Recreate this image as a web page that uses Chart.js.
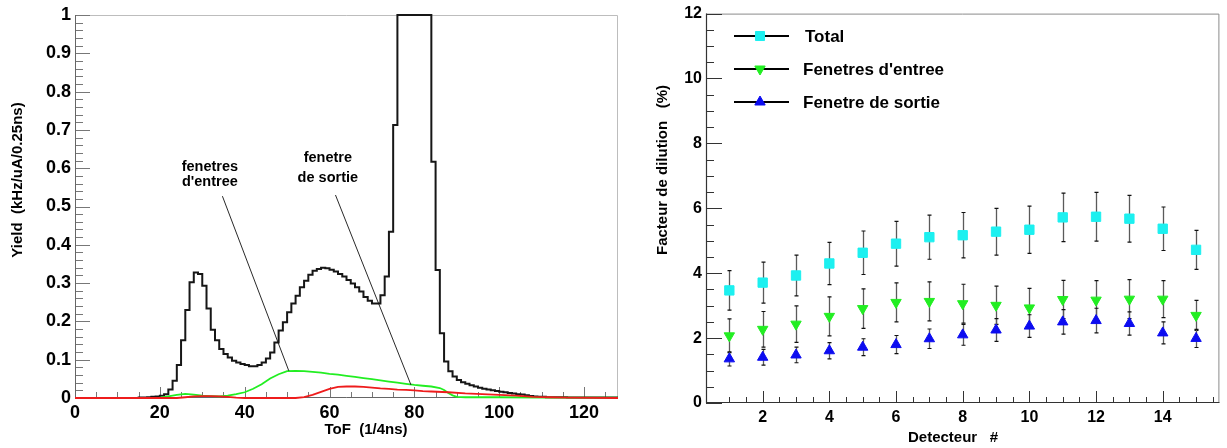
<!DOCTYPE html>
<html><head><meta charset="utf-8">
<script src="https://cdn.jsdelivr.net/npm/chart.js@4.4.1/dist/chart.umd.min.js"></script>
<style>
html,body{margin:0;padding:0;background:#fff;overflow:hidden}
#wrap{position:relative;width:1227px;height:448px;background:#fff}
canvas{position:absolute;top:0}
#c1{left:0}
#c2{left:640px}
</style></head><body>
<div id="wrap"><canvas id="c1" width="640" height="448"></canvas><canvas id="c2" width="587" height="448"></canvas></div>
<script>
// ================= LEFT PANEL DATA =================
const tofTicks = [0, 20, 40, 60, 80, 100, 120];
const tofTickLabels = ['0', '20', '40', '60', '80', '100', '120'];
const yieldTicks = [0, 0.1, 0.2, 0.3, 0.4, 0.5, 0.6, 0.7, 0.8, 0.9, 1];
const yieldTickLabels = ['0', '0.1', '0.2', '0.3', '0.4', '0.5', '0.6', '0.7', '0.8', '0.9', '1'];
const tofBinWidth = 1; // histogram bins [k, k+1)
// total yield per ToF bin (bins 0..127)
const yieldTotal = [
  0, 0, 0, 0, 0, 0, 0, 0, 0, 0,
  0, 0, 0, 0, 0, 0.001, 0.001, 0.002, 0.003, 0.004,
  0.006, 0.010, 0.022, 0.045, 0.086, 0.151, 0.230, 0.302, 0.328, 0.324,
  0.293, 0.234, 0.178, 0.151, 0.128, 0.115, 0.106, 0.097, 0.093, 0.089,
  0.086, 0.083, 0.083, 0.086, 0.093, 0.103, 0.119, 0.145, 0.176, 0.198,
  0.224, 0.247, 0.267, 0.289, 0.306, 0.322, 0.332, 0.337, 0.340, 0.339,
  0.335, 0.330, 0.324, 0.317, 0.308, 0.299, 0.289, 0.278, 0.264, 0.254,
  0.247, 0.247, 0.268, 0.317, 0.434, 0.713, 1, 1, 1, 1,
  1, 1, 1, 1, 0.617, 0.334, 0.169, 0.095, 0.070, 0.056,
  0.047, 0.041, 0.037, 0.033, 0.030, 0.027, 0.024, 0.022, 0.020, 0.018,
  0.016, 0.015, 0.013, 0.012, 0.010, 0.009, 0.007, 0.005, 0.004, 0.003,
  0.003, 0.002, 0.002, 0.002, 0.002, 0.002, 0.001, 0.001, 0.001, 0.001,
  0.001, 0.001, 0.001, 0.001, 0.001, 0.001, 0.001, 0.001
];
// "fenetres d'entree" contribution
const entreeTof = [0, 19, 20, 22, 24, 26, 28, 30, 32, 34, 36, 38, 40, 42, 44, 46, 48, 50, 52, 54, 56, 58, 60, 62, 64, 66, 68, 70, 72, 74, 76, 78, 80, 82, 84, 86, 87, 88, 89, 90, 92, 100, 110, 120, 128];
const entreeYield = [0, 0, 0.001, 0.004, 0.008, 0.011, 0.009, 0.006, 0.005, 0.004, 0.006, 0.010, 0.015, 0.024, 0.036, 0.051, 0.062, 0.070, 0.071, 0.070, 0.068, 0.066, 0.063, 0.061, 0.058, 0.055, 0.052, 0.049, 0.046, 0.043, 0.040, 0.037, 0.034, 0.032, 0.030, 0.026, 0.021, 0.013, 0.007, 0.003, 0.002, 0.002, 0.001, 0.001, 0.001];
// "fenetre de sortie" contribution
const sortieTof = [0, 24, 26, 28, 30, 32, 34, 36, 38, 40, 52, 54, 56, 58, 60, 62, 64, 66, 68, 70, 72, 74, 76, 78, 80, 82, 84, 88, 92, 96, 100, 104, 108, 112, 116, 128];
const sortieYield = [0, 0, 0.002, 0.004, 0.005, 0.005, 0.004, 0.003, 0.001, 0, 0, 0.002, 0.008, 0.016, 0.024, 0.029, 0.030, 0.030, 0.029, 0.027, 0.025, 0.024, 0.022, 0.021, 0.020, 0.018, 0.017, 0.015, 0.012, 0.010, 0.008, 0.006, 0.003, 0.002, 0.001, 0];
// annotations (data coordinates)
const annotLabels = [["fenetres", "d'entree"], ["fenetre", "de sortie"]];
const annotTextAt = [[31.8, 0.607, 0.567], [59.6, 0.629, 0.577]];
const annotLines = [[34.75, 0.527, 50.4, 0.071], [61.4, 0.530, 79.2, 0.034]];

// ================= RIGHT PANEL DATA =================
const detecteurs = [1, 2, 3, 4, 5, 6, 7, 8, 9, 10, 11, 12, 13, 14, 15];
const detTicks = [2, 4, 6, 8, 10, 12, 14];
const detTickLabels = ['2', '4', '6', '8', '10', '12', '14'];
const dilTicks = [0, 2, 4, 6, 8, 10, 12];
const dilTickLabels = ['0', '2', '4', '6', '8', '10', '12'];
const total = [3.47, 3.71, 3.93, 4.30, 4.63, 4.91, 5.11, 5.17, 5.28, 5.34, 5.72, 5.74, 5.68, 5.37, 4.72];
const totalErr = [0.61, 0.63, 0.63, 0.65, 0.67, 0.69, 0.68, 0.70, 0.72, 0.73, 0.75, 0.75, 0.72, 0.67, 0.60];
const entree = [2.07, 2.27, 2.43, 2.67, 2.91, 3.10, 3.13, 3.06, 3.01, 2.93, 3.19, 3.17, 3.20, 3.20, 2.70];
const entreeErr = [0.52, 0.55, 0.56, 0.60, 0.61, 0.60, 0.60, 0.60, 0.59, 0.60, 0.59, 0.60, 0.60, 0.57, 0.46];
const sortie = [1.36, 1.41, 1.48, 1.61, 1.72, 1.80, 1.98, 2.10, 2.25, 2.37, 2.50, 2.54, 2.45, 2.16, 1.99];
const sortieErr = [0.22, 0.24, 0.24, 0.25, 0.26, 0.28, 0.30, 0.32, 0.35, 0.35, 0.38, 0.38, 0.36, 0.34, 0.28];
const seriesNames = ['Total', "Fenetres d'entree", 'Fenetre de sortie'];

// ================= helpers =================
const FONT = '"Liberation Sans", Arial, Helvetica, sans-serif';
const COL_TOTAL = '#1cf0f0', COL_ENTREE = '#22ee22', COL_SORTIE = '#0c0cf0';

function histPoints(vals) {
  const pts = vals.map((v, i) => ({x: i * tofBinWidth, y: v}));
  pts.push({x: vals.length * tofBinWidth, y: vals[vals.length - 1]});
  return pts;
}
function xyPoints(xs, ys) { return xs.map((x, i) => ({x: x, y: ys[i]})); }
function minorList(from, to, step, majorEvery) {
  const out = []; const n = Math.round((to - from) / step);
  for (let i = 0; i <= n; i++) { if (i % majorEvery !== 0) out.push(+(from + i * step).toFixed(6)); }
  return out;
}

function framePlugin(o) {
  return {
    id: 'frame_' + o.id,
    beforeDatasetsDraw(chart) {
      const {ctx, chartArea: a} = chart;
      const xs = chart.scales.x, ys = chart.scales.y;
      ctx.save();
      ctx.lineWidth = 1;
      ctx.strokeStyle = o.frameColor;
      ctx.beginPath();
      ctx.moveTo(a.left, a.top + 0.5); ctx.lineTo(a.right - 0.5, a.top + 0.5); ctx.lineTo(a.right - 0.5, a.bottom);
      ctx.stroke();
      ctx.strokeStyle = o.tickColor;
      ctx.beginPath();
      const tickX = (vals, len) => vals.forEach(v => { const p = Math.round(xs.getPixelForValue(v)) + 0.5; ctx.moveTo(p, a.bottom); ctx.lineTo(p, a.bottom - len); });
      const tickY = (vals, len) => vals.forEach(v => { const p = Math.round(ys.getPixelForValue(v)) + 0.5; ctx.moveTo(a.left, p); ctx.lineTo(a.left + len, p); });
      tickX(o.xMajor, o.xMajorLen); tickX(o.xMinor, o.xMinorLen);
      tickY(o.yMajor, o.yMajorLen); tickY(o.yMinor, o.yMinorLen);
      ctx.stroke();
      ctx.strokeStyle = o.axisColor; ctx.lineWidth = o.axisWidth;
      ctx.beginPath();
      ctx.moveTo(a.left + 0.5, a.top); ctx.lineTo(a.left + 0.5, a.bottom - 0.5); ctx.lineTo(a.right, a.bottom - 0.5);
      ctx.stroke();
      ctx.restore();
    },
    afterDraw(chart) {
      const ctx = chart.ctx;
      ctx.save();
      ctx.fillStyle = '#000';
      ctx.font = 'bold ' + o.titleSize + 'px ' + FONT;
      ctx.textAlign = 'center'; ctx.textBaseline = 'alphabetic';
      ctx.fillText(o.xTitle, o.xTitlePos[0], o.xTitlePos[1] + 0.358 * o.titleSize);
      ctx.translate(o.yTitlePos[0], o.yTitlePos[1]);
      ctx.rotate(-Math.PI / 2);
      ctx.fillText(o.yTitle, 0, 0.358 * o.titleSize);
      ctx.restore();
    }
  };
}

function tickFont(size) { return {family: FONT, size: size, weight: 'bold'}; }

// ================= LEFT CHART =================
const leftAnnot = {
  id: 'annot',
  afterDatasetsDraw(chart) {
    const {ctx} = chart; const xs = chart.scales.x, ys = chart.scales.y;
    ctx.save();
    ctx.strokeStyle = '#111'; ctx.lineWidth = 0.9;
    annotLines.forEach(l => {
      ctx.beginPath();
      ctx.moveTo(xs.getPixelForValue(l[0]), ys.getPixelForValue(l[1]));
      ctx.lineTo(xs.getPixelForValue(l[2]), ys.getPixelForValue(l[3]));
      ctx.stroke();
    });
    ctx.fillStyle = '#000';
    ctx.font = 'bold 14.5px ' + FONT;
    ctx.textAlign = 'center'; ctx.textBaseline = 'alphabetic';
    annotLabels.forEach((lab, i) => {
      const p = annotTextAt[i];
      ctx.fillText(lab[0], xs.getPixelForValue(p[0]), ys.getPixelForValue(p[1]) + 5.2);
      ctx.fillText(lab[1], xs.getPixelForValue(p[0]), ys.getPixelForValue(p[2]) + 5.2);
    });
    ctx.restore();
  }
};

new Chart(document.getElementById('c1'), {
  type: 'line',
  data: {
    datasets: [
      {label: 'fenetre de sortie', data: xyPoints(sortieTof, sortieYield), borderColor: '#ee1c1c', borderWidth: 1.8, pointRadius: 0, tension: 0, fill: false, order: 0, clip: 3},
      {label: "fenetres d'entree", data: xyPoints(entreeTof, entreeYield), borderColor: COL_ENTREE, borderWidth: 1.8, pointRadius: 0, tension: 0, fill: false, order: 1, clip: 3},
      {label: 'total', data: histPoints(yieldTotal), stepped: 'before', borderColor: '#161616', borderWidth: 2, pointRadius: 0, fill: false, order: 2, clip: 1}
    ]
  },
  options: {
    responsive: false, animation: false, devicePixelRatio: 1,
    layout: {padding: {top: 15, right: 22, left: 0, bottom: 0}},
    plugins: {legend: {display: false}, tooltip: {enabled: false}},
    scales: {
      x: {
        type: 'linear', min: 0, max: 128,
        grid: {display: false, drawTicks: false}, border: {display: false},
        afterBuildTicks: s => { s.ticks = tofTicks.map(v => ({value: v})); },
        afterFit: s => { s.height = 50; },
        ticks: {callback: (v, i) => tofTickLabels[i], font: tickFont(18), color: '#000', padding: 4, maxRotation: 0, autoSkip: false}
      },
      y: {
        type: 'linear', min: 0, max: 1,
        grid: {display: false, drawTicks: false}, border: {display: false},
        afterBuildTicks: s => { s.ticks = yieldTicks.map(v => ({value: v})); },
        afterFit: s => { s.width = 75; },
        ticks: {callback: (v, i) => yieldTickLabels[i], font: tickFont(18), color: '#000', padding: 4, autoSkip: false}
      }
    }
  },
  plugins: [framePlugin({
    id: 'L', frameColor: '#bdbdbd', axisColor: '#666', axisWidth: 1, tickColor: '#777',
    xMajor: tofTicks, xMinor: minorList(0, 125, 5, 4), xMajorLen: 11, xMinorLen: 6,
    yMajor: yieldTicks, yMinor: minorList(0, 1, 0.02, 5), yMajorLen: 15, yMinorLen: 8,
    titleSize: 15, xTitle: 'ToF  (1/4ns)', xTitlePos: [366, 429],
    yTitle: 'Yield  (kHz/uA/0.25ns)', yTitlePos: [17, 180]
  }), leftAnnot]
});

// ================= RIGHT CHART =================
const errSeries = [
  {vals: total, errs: totalErr},
  {vals: entree, errs: entreeErr},
  {vals: sortie, errs: sortieErr}
];
const errorBars = {
  id: 'errorBars',
  beforeDatasetsDraw(chart) {
    const {ctx} = chart; const xs = chart.scales.x, ys = chart.scales.y;
    ctx.save();
    errSeries.forEach(s => {
      s.vals.forEach((v, i) => {
        const px = Math.round(xs.getPixelForValue(detecteurs[i])) + 0.5;
        const top = ys.getPixelForValue(v + s.errs[i]);
        const bot = ys.getPixelForValue(v - s.errs[i]);
        ctx.strokeStyle = '#5a5a5a'; ctx.lineWidth = 1.3;
        ctx.beginPath(); ctx.moveTo(px, top); ctx.lineTo(px, bot); ctx.stroke();
        ctx.strokeStyle = '#111'; ctx.lineWidth = 1.2;
        ctx.beginPath();
        ctx.moveTo(px - 2, top); ctx.lineTo(px + 2, top);
        ctx.moveTo(px - 2, bot); ctx.lineTo(px + 2, bot);
        ctx.stroke();
      });
    });
    ctx.restore();
  }
};
const legendEntries = [
  {style: 'rect', color: COL_TOTAL, radius: 6.4, rotation: 0, y: 36, tx: 165},
  {style: 'triangle', color: COL_ENTREE, radius: 6, rotation: 180, y: 69, tx: 163},
  {style: 'triangle', color: COL_SORTIE, radius: 6, rotation: 0, y: 102, tx: 163}
];
const rightLegend = {
  id: 'rootLegend',
  afterDatasetsDraw(chart) {
    const {ctx} = chart;
    ctx.save();
    legendEntries.forEach((e, i) => {
      ctx.strokeStyle = '#000'; ctx.lineWidth = 2;
      ctx.beginPath(); ctx.moveTo(94, e.y); ctx.lineTo(149, e.y); ctx.stroke();
      ctx.fillStyle = e.color; ctx.strokeStyle = e.color; ctx.lineWidth = 1;
      Chart.helpers.drawPoint(ctx, {pointStyle: e.style, radius: e.radius, rotation: e.rotation, borderWidth: 1}, 120, e.y);
      ctx.fillStyle = '#000';
      ctx.font = 'bold 17px ' + FONT;
      ctx.textAlign = 'left'; ctx.textBaseline = 'alphabetic';
      ctx.fillText(seriesNames[i], e.tx, e.y + 0.358 * 17);
    });
    ctx.restore();
  }
};

new Chart(document.getElementById('c2'), {
  type: 'scatter',
  data: {
    datasets: [
      {label: seriesNames[0], data: xyPoints(detecteurs, total), pointStyle: 'rect', pointRadius: 6.6, backgroundColor: COL_TOTAL, borderColor: COL_TOTAL, pointBorderWidth: 1},
      {label: seriesNames[1], data: xyPoints(detecteurs, entree), pointStyle: 'triangle', rotation: 180, pointRotation: 180, pointRadius: 6, backgroundColor: COL_ENTREE, borderColor: COL_ENTREE, pointBorderWidth: 1},
      {label: seriesNames[2], data: xyPoints(detecteurs, sortie), pointStyle: 'triangle', pointRadius: 6, backgroundColor: COL_SORTIE, borderColor: COL_SORTIE, pointBorderWidth: 1}
    ]
  },
  options: {
    responsive: false, animation: false, devicePixelRatio: 1,
    layout: {padding: {top: 11, right: 5, left: 0, bottom: 0}},
    plugins: {legend: {display: false}, tooltip: {enabled: false}},
    scales: {
      x: {
        type: 'linear', min: 0.3, max: 15.7,
        grid: {display: false, drawTicks: false}, border: {display: false},
        afterBuildTicks: s => { s.ticks = detTicks.map(v => ({value: v})); },
        afterFit: s => { s.height = 45; },
        ticks: {callback: (v, i) => detTickLabels[i], font: tickFont(16), color: '#000', padding: 5, maxRotation: 0, autoSkip: false}
      },
      y: {
        type: 'linear', min: 0, max: 12,
        grid: {display: false, drawTicks: false}, border: {display: false},
        afterBuildTicks: s => { s.ticks = dilTicks.map(v => ({value: v})); },
        afterFit: s => { s.width = 66; },
        ticks: {callback: (v, i) => dilTickLabels[i], font: tickFont(16), color: '#000', padding: 4, autoSkip: false}
      }
    }
  },
  plugins: [framePlugin({
    id: 'R', frameColor: '#8a8a8a', axisColor: '#333', axisWidth: 1.2, tickColor: '#333',
    xMajor: detTicks, xMinor: minorList(0.5, 15.5, 0.5, 1000).filter(v => v % 2 !== 0), xMajorLen: 12, xMinorLen: 6,
    yMajor: dilTicks, yMinor: minorList(0, 12, 0.5, 4), yMajorLen: 16, yMinorLen: 8,
    titleSize: 15, xTitle: 'Detecteur   #', xTitlePos: [313, 437],
    yTitle: 'Facteur de dilution   (%)', yTitlePos: [22, 170]
  }), errorBars, rightLegend]
});
</script>
</body></html>
